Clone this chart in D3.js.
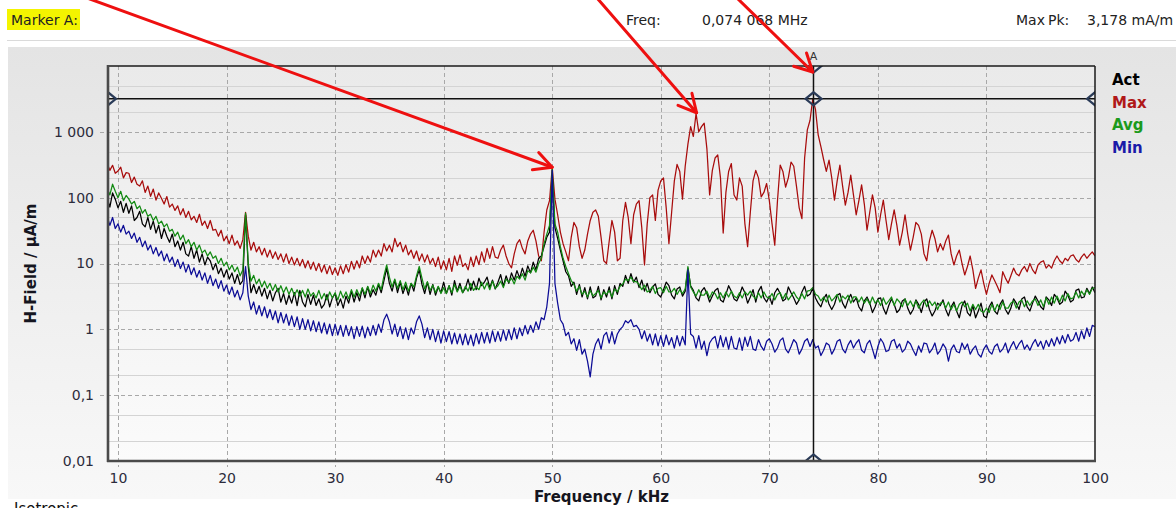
<!DOCTYPE html>
<html><head><meta charset="utf-8">
<script src="https://cdn.jsdelivr.net/npm/d3@7"></script>
<style>
html,body{margin:0;padding:0;background:#fff;overflow:hidden}
svg{display:block;font-family:"DejaVu Sans",Verdana,sans-serif}
</style></head><body>
<svg id="chart" width="1176" height="508"></svg>
<script>
// ---------- DATA ----------
// sweep: 9.00 kHz ... 100.00 kHz, step 0.25 kHz (365 points)
const sweepStartKHz = 9, sweepStepKHz = 0.25, sweepPoints = 365;
const seriesNames = ["Act", "Max", "Avg", "Min"];
const seriesColors = ["#000000", "#a80c0c", "#128a12", "#0c0c96"];
const legendColors = ["#000000", "#b01818", "#1c9a1c", "#1a1aa8"];

// values in µA/m
const maxValues = [
330,260,310,235, 255,290,200,240, 235,170,205,160, 150,180,120,150, 105,135,92,118, 98,80,104,72, 80,64,75,55, 68,50,62,46, 52,42,56,38, 44,34,45,32,
33,26,32,22, 26,20,27,19, 22,17,23,60, 26,16,21,15, 18,13.5,17,12.5, 16,12,15,11.5, 14,10.5,14,10, 12.5,9.5,12,9.2, 11.5,8.6,11,8.2, 10.5,7.8,10,7.4,
9.5,7,9.2,6.8, 8.6,6.6,9.2,7.0, 9.6,7.4,10.8,8.2, 11,8.6,13,10, 13,10.5,16,12.5, 16,13,20,15.5, 19,15,24,18, 21,15,19,13.5, 16,12,15.5,11, 14,10.5,13.5,10,
12,9,12.5,8.2, 11,8,12,7.6, 13,9.4,13.5,9, 10,8,12.5,9, 13,9.6,15,10.5, 17,12,18,12.5, 12,16,19,13, 10,8.6,14,20, 23,17,14,22, 28,32,22,13,
11,30,65,90, 290,95,55,30, 20,15,11,25, 42,35,18,12, 16,28,45,60, 65,52,25,11, 10,22,45,30, 11,12,45,85, 50,20,55,80, 90,35,9.5,40,
100,110,45,130, 180,200,70,20, 60,180,320,250, 95,300,650,1200, 850,1900,1000,1200, 1350,550,110,260, 400,445,200,29, 120,250,330,110, 92,200,150,40, 18,60,180,260,
200,103,120,164, 90,40,19,90, 313,250,145,200, 348,300,150,70, 48,400,1070,1500, 3178,2200,900,594, 380,250,373,200, 92,180,313,150, 77,120,220,110, 55,90,156,80,
32,60,110,70, 30,55,92,45, 23,40,65,38, 19,30,55,28, 16,25,42,38, 28,14,11,22, 32,24,15,20, 16,22,27,14, 9.5,13,16,10, 6.7,9,13,8,
4.2,6,8,5, 3.4,5,6.7,5.5, 4.5,3.6,7.5,6, 5,6.5,8.5,7, 6.5,8,9,7.5, 10,8,7,9.5, 10.5,11,8.5,9.5, 8.5,11,13,11, 10,12,11,13, 13.5,11.5,10.5,12.5,
14,12,13.5,15,13];

const avgValues = [
140,110,160,125, 100,125,90,108, 95,80,88,68, 75,58,66,52, 56,45,52,40, 44,36,40,31, 33,26,30,23, 27,20,23,18, 21,16,19,14.5, 16,13,15,12,
13,10,12,9.2, 10.5,8,9.5,7.5, 8.8,6.5,8.0,58, 10,5.4,6.6,4.9, 5.8,4.4,5.4,4.2, 5.0,3.9,4.8,3.7, 4.6,3.6,4.4,3.4, 4.2,3.3,4.0,3.2, 3.9,3.1,4.1,3.2, 3.6,3.0,3.9,2.9,
3.5,2.8,3.7,3.0, 3.6,2.8,3.8,3.0, 3.7,2.9,4.0,3.1, 4.0,3.2,4.3,3.4, 4.5,3.5,4.7,3.8, 5.0,4.0,6.5,9.5, 6.2,4.4,5.8,4.2, 5.5,4.0,5.2,3.8, 5.0,4.4,6.5,9, 6.0,4.1,5.3,3.9,
4.7,3.6,4.5,3.5, 4.3,3.5,4.6,3.6, 4.8,3.7,4.5,3.6, 4.5,3.8,5.0,3.9, 4.4,4.0,5.2,4.1, 5.1,4.0,5.4,4.2, 4.6,5.4,4.3,5.8, 5.2,6.0,4.9,6.4, 5.8,7.0,5.6,7.8, 7.2,8.8,7.4,10,
12,20,28,38, 270,40,30,18, 12,9,7,5.5, 4.8,3.8,4.5,3.4, 3.8,3.1,3.9,3.2, 3.5,3.9,3.0,3.7, 3.4,3.9,3.1,4.1, 3.7,4.5,4.9,5.8, 5.5,6.2,5.3,5.3, 4.8,4.0,4.7,3.7,
3.9,4.5,3.5,4.2, 4.3,3.6,4.5,3.7, 3.7,4.2,3.4,4.0, 3.5,4.1,9,4.4, 3.7,3.2,4.0,3.3, 3.3,3.8,3.0,3.7, 3.5,2.9,3.6,3.0, 3.7,3.1,3.8,3.2, 3.0,3.6,3.0,3.7, 3.3,3.8,3.2,2.9,
3.6,3.0,3.7,3.1, 3.0,3.5,2.8,3.4, 3.6,2.9,3.5,2.8, 3.2,3.7,3.1,2.8, 3.5,2.9,3.8,3.9, 4.3,3.4,3.2,2.7, 3.1,2.6,3.3,2.7, 3.0,3.4,2.6,3.2, 2.9,3.3,2.5,3.1, 3.1,2.6,3.1,2.5,
2.9,2.4,3.1,2.5, 2.8,2.3,3.0,2.4, 2.7,3.1,2.3,2.9, 2.6,2.2,2.9,2.3, 2.7,2.2,2.7,2.1, 2.5,2.8,2.2,2.7, 2.3,2.6,2.0,2.5, 2.6,2.1,2.6,2.0, 2.4,1.9,2.4,2.6, 2.2,2.5,1.9,2.4,
2.0,2.4,1.9,1.8, 2.1,1.8,2.4,1.9, 2.4,2.0,2.6,2.1, 2.1,2.5,2.7,2.1, 2.6,2.8,2.2,2.7, 2.3,2.7,2.9,2.3, 2.8,2.2,3.0,2.4, 3.1,2.5,3.2,2.6, 3.3,2.7,3.5,2.9, 3.0,3.7,3.0,3.8,
3.3,4.0,3.4,4.2,4.3];

const actValues = [
100,72,118,95, 70,88,60,82, 58,75,45,50, 62,40,36,50, 33,44,29,38, 24,34,26,21, 28,18,22,16, 21,14,13,18, 12,16,10.5,14, 9.5,12.5,11,8,
10,7,8.5,6.2, 8,5.8,7.2,5, 6.8,4.8,5.5,55, 9,3.6,4.8,3.5, 4.5,3.2,4.2,2.9, 3.9,2.7,3.6,4.2, 2.6,3.5,2.4,3.3, 2.5,3.6,2.3,3.9, 2.6,2.2,3.4,2.4, 3.3,2.3,2.9,2.1,
2.4,3.4,2.2,3.0, 3.5,2.3,2.9,2.1, 3.2,2.5,3.8,2.6, 3.6,2.7,4.2,3.0, 4.4,3.1,4.0,3.3, 4.8,3.6,5.5,8.5, 5,3.8,5.6,3.6, 5.2,3.5,4.6,3.3, 5.0,3.8,6.0,8, 4.8,3.5,5.2,3.4,
4.8,3.3,4.4,3.6, 5.2,3.5,4.6,3.3, 5.5,3.8,5.0,3.6, 4.2,5.8,3.9,5.4, 4.0,6.0,4.6,5.2, 6.2,4.3,5.6,4.1, 5.2,6.8,4.5,6.5, 5.0,7.2,5.6,7.8, 6.0,8.5,6.4,9.2, 7.2,10.5,8.0,12,
13,18,25,30, 220,35,24,16, 11,7.5,6.5,4.5, 5.2,3.4,4.8,3.1, 4.3,2.9,4.4,3.0, 3.2,4.5,2.8,4.0, 3.1,4.4,2.9,4.6, 3.4,5.0,4.5,6.6, 5.0,7.0,5.2,6.2, 4.3,5.6,3.8,5.0,
3.6,4.4,4.9,3.4, 3.1,4.0,5.2,4.6, 3.3,2.9,4.1,4.4, 3.2,3.8,8.5,4.6, 3.9,3.0,2.7,3.8, 4.3,3.5,2.6,3.2, 3.9,4.2,2.8,2.6, 3.4,4.6,3.8,2.9, 2.7,3.3,4.4,3.6, 2.5,3.1,4.0,2.6,
3.8,4.5,3.0,2.6, 3.2,2.4,3.6,4.2, 3.5,2.7,2.9,4.4, 3.6,3.0,2.4,2.8, 3.7,4.5,3.2,3.4, 4.2,3.0,2.5,2.2, 2.9,3.4,2.4,2.0, 2.4,3.3,3.5,2.5, 2.1,2.8,3.4,2.6, 3.0,2.2,1.9,2.7,
3.1,2.5,1.8,2.2, 2.9,3.0,2.1,1.7, 2.3,2.9,2.4,1.8, 2.0,2.7,2.9,2.1, 1.7,2.0,2.8,2.4, 1.8,2.6,2.9,2.0, 1.6,1.9,2.5,2.3, 2.8,2.0,1.6,2.2, 2.6,1.9,1.5,2.3, 2.7,1.8,1.6,2.3,
1.5,1.9,2.5,1.6, 1.5,2.2,2.6,1.9, 1.7,2.4,2.8,2.0, 1.7,2.1,2.9,2.5, 2.0,2.9,3.1,2.2, 1.9,2.5,3.2,2.7, 2.2,2.0,3.1,2.8, 2.3,3.4,3.0,2.4, 2.6,3.8,3.3,2.6, 2.8,3.9,4.1,3.0,
3.1,4.2,3.5,4.4,3.6];

const minValues = [
52,38,50,34, 40,30,38,28, 31,24,29,21, 25,18,22,16, 19,14,17.5,13, 15.5,11,14,10.5, 12.5,9,11.5,8.4, 10.5,7.4,9.6,6.8, 8.6,6.2,7.8,5.6, 7.2,5.0,6.6,4.6,
5.8,4.2,5.5,3.8, 4.7,3.4,4.4,3.1, 3.9,2.8,3.6,9, 3.2,2.0,2.6,1.7, 2.3,1.6,2.2,1.5, 2.0,1.4,1.9,1.25, 1.8,1.25,1.7,1.15, 1.6,1.1,1.55,1.0, 1.45,1.0,1.4,0.95, 1.35,0.92,1.3,0.88,
1.25,0.85,1.2,0.8, 1.2,0.82,1.15,0.78, 1.15,0.8,1.1,0.72, 1.1,0.78,1.12,0.74, 1.08,0.8,1.15,0.82, 1.2,0.9,1.4,1.7, 1.3,0.85,1.2,0.78, 1.1,0.72,1.05,0.7, 1.05,0.85,1.3,1.6, 1.2,0.75,1.05,0.7,
1.0,0.65,0.95,0.62, 0.95,0.65,0.92,0.6, 0.88,0.6,0.85,0.58, 0.85,0.58,0.82,0.56, 0.86,0.6,0.9,0.62, 0.9,0.62,0.95,0.65, 0.92,0.66,0.98,0.68, 0.98,0.7,1.05,0.72, 1.05,0.8,1.15,0.85, 1.15,0.9,1.3,1.0,
1.5,1.4,2.2,5, 260,5,2.5,1.4, 1.2,0.8,0.9,0.6, 0.72,0.48,0.7,0.42, 0.5,0.33,0.19,0.42, 0.6,0.72,0.5,0.8, 0.9,0.62,0.92,0.6, 0.85,1.0,1.1,1.35, 1.25,1.4,1.1,1.15, 1.0,0.72,0.95,0.66,
0.85,0.58,0.85,0.56, 0.8,0.55,0.82,0.58, 0.75,0.52,0.8,0.56, 0.78,0.58,8,0.85, 0.78,0.52,0.8,0.5, 0.66,0.4,0.62,0.72, 0.78,0.52,0.8,0.54, 0.76,0.5,0.78,0.52, 0.5,0.74,0.48,0.76, 0.55,0.78,0.5,0.48,
0.7,0.55,0.48,0.66, 0.72,0.6,0.45,0.52, 0.68,0.74,0.5,0.44, 0.55,0.7,0.62,0.42, 0.5,0.66,0.72,0.55, 0.7,0.52,0.56,0.4, 0.48,0.62,0.58,0.42, 0.5,0.66,0.7,0.5, 0.44,0.58,0.68,0.52, 0.62,0.7,0.48,0.44,
0.6,0.68,0.5,0.36, 0.55,0.72,0.62,0.46, 0.48,0.66,0.7,0.52, 0.6,0.45,0.5,0.66, 0.6,0.48,0.4,0.56, 0.45,0.62,0.6,0.44, 0.5,0.62,0.42,0.48, 0.6,0.52,0.33,0.5, 0.58,0.46,0.44,0.62, 0.5,0.6,0.42,0.5,
0.56,0.42,0.38,0.5, 0.58,0.46,0.42,0.55, 0.6,0.45,0.5,0.62, 0.44,0.55,0.65,0.5, 0.6,0.68,0.5,0.58, 0.48,0.6,0.7,0.55, 0.66,0.5,0.68,0.55, 0.72,0.56,0.76,0.6, 0.8,0.62,0.84,0.66, 0.7,0.9,0.66,0.95,
0.72,1.05,0.78,1.15,1.1];

const xTickValues = [10, 20, 30, 40, 50, 60, 70, 80, 90, 100];
const xTickLabels = ["10", "20", "30", "40", "50", "60", "70", "80", "90", "100"];
const yTickValues = [0.01, 0.1, 1, 10, 100, 1000];
const yTickLabels = ["0,01", "0,1", "1", "10", "100", "1 000"];
const yMinorGrid = [0.02, 0.05, 0.2, 0.5, 2, 5, 20, 50, 200, 500, 2000, 5000];

const markerFreqKHz = 74.068;
const markerPeakValue = 3178;
const headerMarker = "Marker A:";
const headerFreqLabel = "Freq:";
const headerFreqValue = "0,074 068 MHz";
const headerPeak = ["Max", "Pk:", "3,178 mA/m"];
const xTitle = "Frequency / kHz";
const yTitle = "H-Field / µA/m";
const footerText = "Isotropic";
// annotation arrows: tips at [kHz, µA/m]
const arrowTips = [[50.0, 290], [63.3, 1950], [74.0, 10000]];

// ---------- CHART ----------
const svg = d3.select("#chart");
const P = {l: 108, r: 1095, t: 66, b: 461};
const x = d3.scaleLinear().domain([9.079, 100]).range([P.l, P.r]);
const y = d3.scaleLog().domain([0.01, 10000]).range([P.b, P.t]);
const freq = d3.range(sweepPoints).map(i => sweepStartKHz + i * sweepStepKHz);

const defs = svg.append("defs");
const g1 = defs.append("linearGradient").attr("id", "panelGrad").attr("x1", 0).attr("y1", 0).attr("x2", 0).attr("y2", 1);
g1.append("stop").attr("offset", "0%").attr("stop-color", "#e4e4e4");
g1.append("stop").attr("offset", "100%").attr("stop-color", "#f8f8f8");
const g2 = defs.append("linearGradient").attr("id", "plotGrad").attr("x1", 0).attr("y1", 0).attr("x2", 0).attr("y2", 1);
g2.append("stop").attr("offset", "0%").attr("stop-color", "#eaeaea");
g2.append("stop").attr("offset", "100%").attr("stop-color", "#fbfbfb");
defs.append("clipPath").attr("id", "plotClip").append("rect")
  .attr("x", P.l).attr("y", P.t).attr("width", P.r - P.l).attr("height", P.b - P.t);

// header
svg.append("rect").attr("x", 7).attr("y", 9).attr("width", 73).attr("height", 21).attr("fill", "#f4f400");
const hdr = svg.append("g").attr("font-size", 14).attr("fill", "#222");
hdr.append("text").attr("x", 11).attr("y", 25).text(headerMarker);
hdr.append("text").attr("x", 626).attr("y", 25).text(headerFreqLabel);
hdr.append("text").attr("x", 702).attr("y", 25).text(headerFreqValue);
hdr.append("text").attr("x", 1016).attr("y", 25).text(headerPeak[0]);
hdr.append("text").attr("x", 1048).attr("y", 25).text(headerPeak[1]);
hdr.append("text").attr("x", 1087).attr("y", 25).text(headerPeak[2]);
svg.append("line").attr("x1", 7).attr("x2", 1176).attr("y1", 40.5).attr("y2", 40.5).attr("stroke", "#dadada");

// panel
svg.append("rect").attr("x", 8).attr("y", 47).attr("width", 1168).attr("height", 452).attr("fill", "url(#panelGrad)");
svg.append("rect").attr("x", P.l).attr("y", P.t).attr("width", P.r - P.l).attr("height", P.b - P.t).attr("fill", "url(#plotGrad)");

// grid
const grid = svg.append("g");
grid.selectAll(".ymin").data(yMinorGrid).join("line")
  .attr("x1", P.l).attr("x2", P.r).attr("y1", d => Math.round(y(d)) + 0.5).attr("y2", d => Math.round(y(d)) + 0.5)
  .attr("stroke", "#d4d4d4").attr("stroke-width", 1);
grid.selectAll(".ymaj").data(yTickValues.slice(1)).join("line")
  .attr("x1", P.l - 8).attr("x2", P.r).attr("y1", d => Math.round(y(d)) + 0.5).attr("y2", d => Math.round(y(d)) + 0.5)
  .attr("stroke", "#a8a8a8").attr("stroke-dasharray", "4,3");
grid.selectAll(".xmaj").data(xTickValues.slice(0, -1)).join("line")
  .attr("x1", d => Math.round(x(d)) + 0.5).attr("x2", d => Math.round(x(d)) + 0.5).attr("y1", P.t).attr("y2", P.b + 6)
  .attr("stroke", "#a8a8a8").attr("stroke-dasharray", "4,3");

// axes via d3 axis generators
const xAxis = d3.axisBottom(x).tickValues(xTickValues).tickFormat((d, i) => xTickLabels[i]).tickSize(0).tickPadding(14);
const yAxis = d3.axisLeft(y).tickValues(yTickValues).tickFormat((d, i) => yTickLabels[i]).tickSize(0).tickPadding(14);
const gx = svg.append("g").attr("transform", `translate(0,${P.b})`).call(xAxis);
const gy = svg.append("g").attr("transform", `translate(${P.l},0)`).call(yAxis);
[gx, gy].forEach(g => {
  g.select(".domain").remove();
  g.selectAll("text").attr("font-family", "DejaVu Sans").attr("font-size", 14).attr("fill", "#2c2c3c");
});
gx.selectAll("text").attr("dy", "0.71em").attr("y", 12);

// series lines
const line = d3.line().x((d, i) => x(freq[i])).y(d => y(d));
const plotG = svg.append("g").attr("clip-path", "url(#plotClip)");
const drawOrder = [[maxValues, 1], [actValues, 0], [avgValues, 2], [minValues, 3]];
drawOrder.forEach(([vals, ci]) => {
  plotG.append("path").datum(vals).attr("d", line)
    .attr("fill", "none").attr("stroke", seriesColors[ci]).attr("stroke-width", 1.25).attr("stroke-linejoin", "round");
});

// marker lines and diamonds
const mx = x(markerFreqKHz), my = y(markerPeakValue);
plotG.append("line").attr("x1", P.l).attr("x2", P.r).attr("y1", my).attr("y2", my).attr("stroke", "#111").attr("stroke-width", 1.5);
plotG.append("line").attr("x1", mx).attr("x2", mx).attr("y1", P.t).attr("y2", P.b).attr("stroke", "#111").attr("stroke-width", 1.5);
const diamond = (cx, cy) => `M${cx - 8},${cy}L${cx},${cy - 6.5}L${cx + 8},${cy}L${cx},${cy + 6.5}Z`;
[[mx, my], [mx, P.t], [mx, P.b], [P.l, my], [P.r, my]].forEach(([cx, cy]) => {
  plotG.append("path").attr("d", diamond(cx, cy)).attr("fill", "none").attr("stroke", "#2a3b58").attr("stroke-width", 2.2);
});

// frame
svg.append("line").attr("x1", P.l).attr("x2", P.r).attr("y1", P.t).attr("y2", P.t).attr("stroke", "#1a1a1a").attr("stroke-width", 1.5);
svg.append("line").attr("x1", P.r).attr("x2", P.r).attr("y1", P.t).attr("y2", P.b).attr("stroke", "#1a1a1a").attr("stroke-width", 1.5);
svg.append("line").attr("x1", P.l).attr("x2", P.l).attr("y1", P.t - 1).attr("y2", P.b + 1).attr("stroke", "#4a4a4a").attr("stroke-width", 2.6);
svg.append("line").attr("x1", P.l - 1).attr("x2", P.r + 1).attr("y1", P.b).attr("y2", P.b).attr("stroke", "#4a4a4a").attr("stroke-width", 2.6);
svg.append("text").attr("x", mx).attr("y", 60).attr("text-anchor", "middle").attr("font-size", 11).attr("fill", "#333").text("A");

// titles
svg.append("text").attr("x", (P.l + P.r) / 2).attr("y", 502).attr("text-anchor", "middle")
  .attr("font-size", 15).attr("font-weight", "bold").attr("fill", "#151520").text(xTitle);
svg.append("text").attr("transform", `translate(36,${(P.t + P.b) / 2}) rotate(-90)`).attr("text-anchor", "middle")
  .attr("font-size", 15).attr("font-weight", "bold").attr("fill", "#151520").text(yTitle);

// legend
const lg = svg.append("g").attr("font-size", 15).attr("font-weight", "bold");
seriesNames.forEach((n, i) => {
  lg.append("text").attr("x", 1112).attr("y", 85 + i * 22.7).attr("fill", legendColors[i]).text(n);
});

// footer (cut by the bottom edge, as in the reference)
svg.append("text").attr("x", 14).attr("y", 514).attr("font-size", 15).attr("fill", "#111").text(footerText);

// red annotation arrows (pixel starts at top edge)
const arrowStartsPx = [[87, -2], [597, -2], [737, -2]];
const ag = svg.append("g").attr("stroke", "#ee1010").attr("stroke-width", 3).attr("fill", "none").attr("stroke-linecap", "round").attr("stroke-linejoin", "round");
arrowTips.forEach(([fk, v], i) => {
  const [sx, sy] = arrowStartsPx[i];
  let tx = x(fk), ty = y(v);
  if (i === 2) ty = P.t + 6;
  const ang = Math.atan2(sy - ty, sx - tx);
  const L = 20, a = 0.48;
  ag.append("line").attr("x1", sx).attr("y1", sy).attr("x2", tx).attr("y2", ty);
  ag.append("path").attr("d",
    `M${tx + L * Math.cos(ang + a)},${ty + L * Math.sin(ang + a)}L${tx},${ty}L${tx + L * Math.cos(ang - a)},${ty + L * Math.sin(ang - a)}`);
});
</script>
</body></html>
